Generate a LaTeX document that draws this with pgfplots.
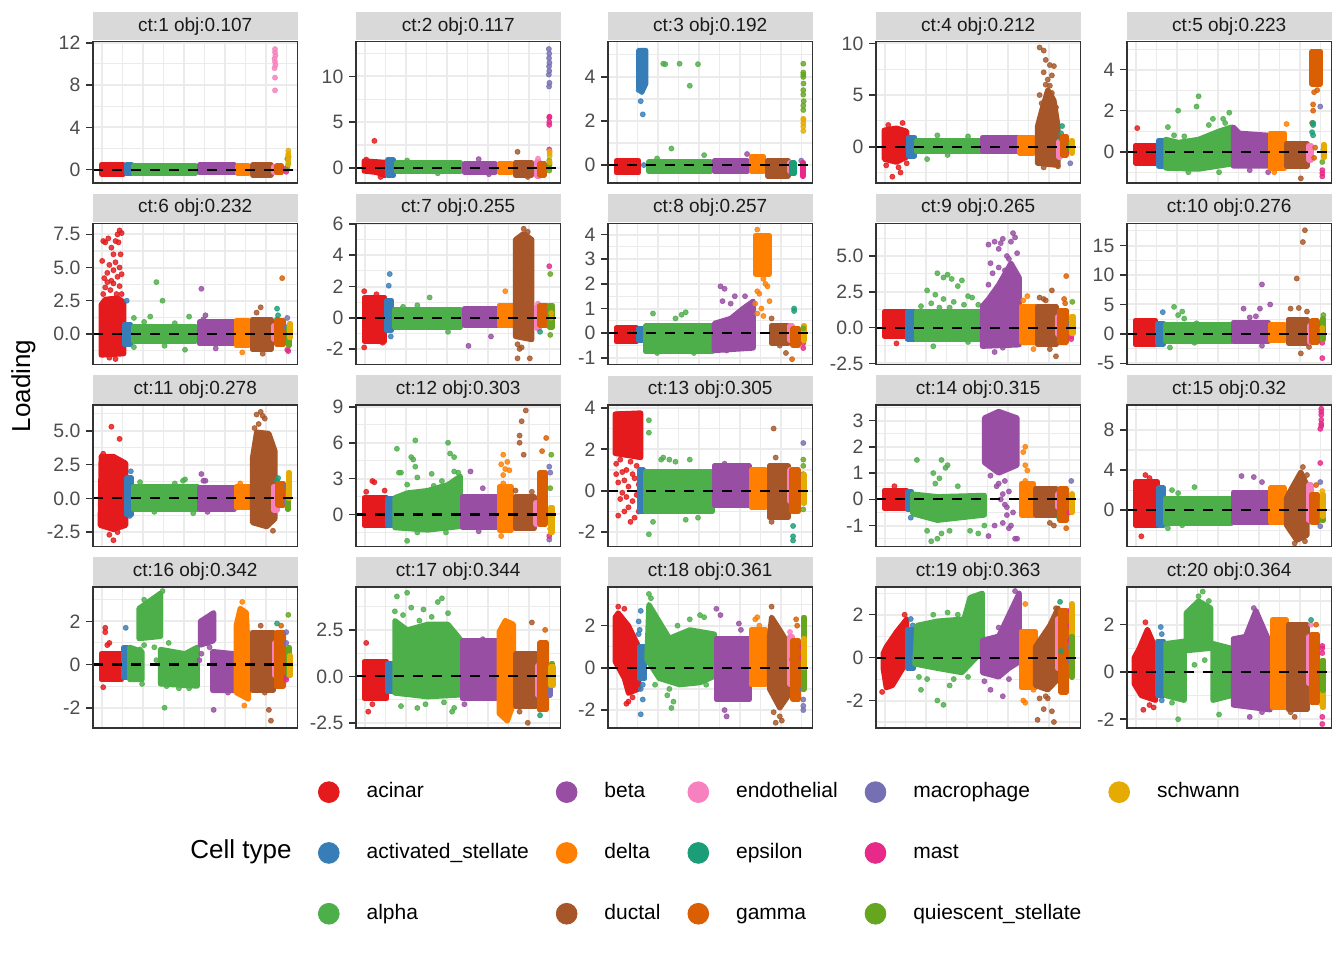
\documentclass[border=0pt]{standalone}
\usepackage{pgfplots}
\pgfplotsset{compat=1.18}
\usepackage{fontspec}
\setmainfont{Liberation Sans}
\definecolor{cA}{HTML}{E41A1C}
\definecolor{cS}{HTML}{377EB8}
\definecolor{cG}{HTML}{4DAF4A}
\definecolor{cB}{HTML}{984EA3}
\definecolor{cD}{HTML}{FF7F00}
\definecolor{cU}{HTML}{A65628}
\definecolor{cE}{HTML}{F781BF}
\definecolor{cP}{HTML}{1B9E77}
\definecolor{cM}{HTML}{D95F02}
\definecolor{cW}{HTML}{7570B3}
\definecolor{cT}{HTML}{E7298A}
\definecolor{cQ}{HTML}{66A61E}
\definecolor{cH}{HTML}{E6AB02}
\definecolor{grey92}{HTML}{EBEBEB}
\definecolor{grey85}{HTML}{D9D9D9}
\definecolor{grey20}{HTML}{333333}
\definecolor{grey30}{HTML}{4D4D4D}
\definecolor{grey10}{HTML}{1A1A1A}
\pgfplotsset{
  cband/.style={draw=#1, fill=#1, line width=2.6pt, line join=round, mark=none},
  cpts/.style={only marks, mark=*, mark size=1.25pt, color=#1, mark options={fill opacity=0.82, draw opacity=0.82}},
  panel/.style={scale only axis, width=102.25pt, height=70.6pt, anchor=south west,
    xmin=0, xmax=1,
    xtick={0.042,0.244,0.444,0.645,0.845}, minor xtick={0.143,0.344,0.545,0.745,0.945},
    xticklabels={}, xtick style={draw=none}, minor tick length=0pt,
    ytick pos=left, xtick pos=bottom,
    grid=both, major grid style={grey92, line width=1pt}, minor grid style={grey92, line width=0.55pt},
    axis line style={grey20, line width=0.8pt},
    ytick style={grey20, line width=0.8pt}, major tick length=3.3pt, tick align=outside,
    yticklabel style={font=\fontsize{9.7}{11}\selectfont, text=grey30, inner sep=0pt, xshift=-2.85pt},
    clip marker paths=true,
    after end axis/.code={\draw[grey20, line width=0.8pt] (rel axis cs:0,0) rectangle (rel axis cs:1,1);}},
  strip/.style={after end axis/.append code={\node[fill=grey85, minimum width=102.25pt, minimum height=14.2pt, inner sep=0pt, anchor=south, font=\fontsize{9.5}{11}\selectfont, text=grey10] at ([yshift=0.4pt]rel axis cs:0.5,1) {#1};}},
}
\newcommand{\Rect}[5]{\addplot[cband=#1] coordinates {(#2,#4) (#3,#4) (#3,#5) (#2,#5)} -- cycle;}
\newcommand{\Poly}[2]{\addplot[cband=#1] coordinates {#2} -- cycle;}
\newcommand{\Pts}[2]{\addplot[cpts=#1] coordinates {#2};}
\newcommand{\Zero}{\addplot[black, line width=1.1pt, dash pattern=on 5pt off 4.5pt] coordinates {(0,0) (1,0)};}
\begin{document}
\begin{tikzpicture}
\fill[white] (0pt,0pt) rectangle (672pt,480pt);

% ---------- ct:1
\begin{axis}[panel, at={(46.5pt,388.55pt)}, ymin=-1.25, ymax=12.1, ytick={0,4,8,12}, yticklabels={0,4,8,12}, minor ytick={2,6,10}, strip={ct:1 obj:0.107}]
\Rect{cA}{0.04}{0.15}{-0.4}{0.45}
\Rect{cS}{0.165}{0.19}{-0.35}{0.5}
\Rect{cG}{0.2}{0.5}{-0.35}{0.4}
\Rect{cB}{0.52}{0.69}{-0.3}{0.45}
\Rect{cD}{0.705}{0.76}{-0.35}{0.35}
\Rect{cU}{0.78}{0.87}{-0.5}{0.45}
\Rect{cE}{0.885}{0.895}{-0.3}{0.3}
\Pts{cE}{(0.89,7.5)(0.89,8.7)(0.888,9.6)(0.892,9.9)(0.89,10.2)(0.888,10.5)(0.892,10.8)(0.89,11.1)(0.89,11.4)}
\Pts{cP}{(0.905,-0.2)(0.9,0.1)}
\Rect{cM}{0.9}{0.92}{-0.3}{0.4}
\Pts{cW}{(0.945,0)}
\Pts{cT}{(0.945,-0.2)(0.94,0.1)}
\Pts{cQ}{(0.95,0.2)(0.955,0.6)(0.95,1.0)(0.955,1.3)}
\Pts{cH}{(0.955,0.5)(0.955,0.9)(0.957,1.2)(0.955,1.5)(0.955,1.8)}
\Zero
\end{axis}

% ---------- ct:2
\begin{axis}[panel, at={(178pt,388.55pt)}, ymin=-1.65, ymax=13.8, ytick={0,5,10}, yticklabels={0,5,10}, minor ytick={2.5,7.5,12.5}, strip={ct:2 obj:0.117}]
\Poly{cA}{(0.04,-0.35)(0.1,-0.5)(0.14,-0.85)(0.14,0.6)(0.04,0.75)}
\Pts{cA}{(0.09,2.95)(0.12,-1.0)(0.05,0.9)}
\Rect{cS}{0.155}{0.185}{-0.8}{0.85}
\Rect{cG}{0.2}{0.51}{-0.4}{0.55}
\Pts{cG}{(0.25,0.8)(0.4,-0.6)}
\Rect{cB}{0.53}{0.68}{-0.5}{0.45}
\Pts{cB}{(0.6,0.95)(0.65,-0.7)}
\Rect{cD}{0.7}{0.76}{-0.5}{0.5}
\Rect{cU}{0.78}{0.86}{-0.8}{0.6}
\Pts{cU}{(0.79,1.75)(0.84,-1.0)}
\Rect{cE}{0.885}{0.895}{-0.9}{0.7}
\Pts{cE}{(0.89,1.0)}
\Rect{cM}{0.9}{0.92}{-0.8}{0.5}
\Pts{cP}{(0.945,0.4)}
\Pts{cW}{(0.944,8.9)(0.946,9.3)(0.943,10.2)(0.945,10.6)(0.944,11.1)(0.946,11.5)(0.944,12.0)(0.945,12.5)(0.943,13.0)}
\Pts{cT}{(0.945,2.0)(0.945,4.7)(0.945,5.0)(0.945,5.5)(0.946,5.6)}
\Pts{cQ}{(0.945,-0.3)(0.945,0)(0.946,0.3)(0.945,0.8)}
\Pts{cH}{(0.947,0.6)(0.947,1.3)(0.947,1.6)(0.947,1.8)}
\Zero
\end{axis}

% ---------- ct:3
\begin{axis}[panel, at={(304pt,388.55pt)}, ymin=-0.81, ymax=5.6, ytick={0,2,4}, yticklabels={0,2,4}, minor ytick={1,3,5}, strip={ct:3 obj:0.192}]
\Rect{cA}{0.04}{0.15}{-0.35}{0.2}
\Poly{cS}{(0.15,3.5)(0.165,3.3)(0.185,3.7)(0.185,5.2)(0.15,5.2)}
\Pts{cS}{(0.16,2.9)(0.17,2.3)(0.15,3.4)(0.175,0)}
\Rect{cG}{0.2}{0.5}{-0.3}{0.15}
\Pts{cG}{(0.27,4.6)(0.28,4.58)(0.35,4.6)(0.4,3.6)(0.44,4.58)(0.31,0.75)(0.47,0.45)(0.24,0.3)}
\Rect{cB}{0.52}{0.68}{-0.3}{0.2}
\Pts{cB}{(0.68,0.5)}
\Rect{cD}{0.7}{0.76}{-0.3}{0.4}
\Rect{cU}{0.78}{0.88}{-0.5}{0.2}
\Rect{cE}{0.89}{0.9}{-0.3}{0.1}
\Rect{cP}{0.9}{0.91}{-0.4}{0.1}
\Pts{cW}{(0.945,0.2)}
\Rect{cT}{0.95}{0.955}{-0.5}{0.1}
\Pts{cQ}{(0.955,2.5)(0.955,2.7)(0.957,2.9)(0.955,3.2)(0.955,3.4)(0.956,3.7)(0.955,4.0)(0.955,4.1)(0.955,4.2)(0.955,4.6)}
\Pts{cH}{(0.955,1.55)(0.955,1.75)(0.955,1.9)(0.956,2.05)(0.955,2.1)}
\Zero
\end{axis}

% ---------- ct:4
\begin{axis}[panel, at={(438pt,388.55pt)}, ymin=-3.5, ymax=10.16, ytick={0,5,10}, yticklabels={0,5,10}, minor ytick={-2.5,2.5,7.5}, strip={ct:4 obj:0.212}]
\Poly{cA}{(0.04,-1.2)(0.1,-1.5)(0.15,-1.0)(0.15,1.5)(0.1,1.8)(0.04,1.6)}
\Pts{cA}{(0.08,-2.9)(0.12,-2.5)(0.13,2.3)(0.06,2.1)(0.15,-1.6)(0.05,-1.8)(0.11,-2.0)}
\Rect{cS}{0.16}{0.19}{-0.9}{0.9}
\Rect{cG}{0.2}{0.51}{-0.5}{0.6}
\Pts{cG}{(0.25,-1.2)(0.35,-0.8)(0.3,1.1)(0.45,1.0)}
\Rect{cB}{0.52}{0.69}{-0.5}{0.9}
\Rect{cD}{0.7}{0.77}{-0.6}{0.9}
\Poly{cU}{(0.79,-1.6)(0.89,-1.8)(0.89,2.0)(0.87,4.5)(0.84,5.5)(0.81,3.5)(0.79,2.0)}
\Pts{cU}{(0.8,9.6)(0.82,9.3)(0.83,8.4)(0.85,7.9)(0.87,7.8)(0.86,6.9)(0.84,6.5)(0.82,7.2)(0.85,5.9)(0.86,5.2)(0.8,5.0)(0.88,3.8)(0.82,-2.0)(0.89,-1.9)(0.81,4.2)(0.83,6.0)}
\Rect{cE}{0.895}{0.9}{-1.0}{0.5}
\Pts{cP}{(0.905,1.3)(0.91,2.0)(0.905,0.8)}
\Rect{cM}{0.91}{0.93}{-0.8}{1.0}
\Pts{cT}{(0.95,-0.4)(0.95,0)}
\Pts{cW}{(0.95,-1.6)}
\Rect{cQ}{0.95}{0.955}{-0.3}{0.3}
\Rect{cH}{0.955}{0.96}{-0.6}{0.6}
\Zero
\end{axis}

% ---------- ct:5
\begin{axis}[panel, at={(563.5pt,388.55pt)}, ymin=-1.52, ymax=5.36, ytick={0,2,4}, yticklabels={0,2,4}, minor ytick={-1,1,3,5}, strip={ct:5 obj:0.223}]
\Rect{cA}{0.04}{0.15}{-0.55}{0.3}
\Pts{cA}{(0.05,1.15)}
\Rect{cS}{0.155}{0.18}{-0.7}{0.55}
\Poly{cG}{(0.19,-0.8)(0.35,-0.85)(0.51,-0.6)(0.51,1.2)(0.45,1.0)(0.35,0.6)(0.25,0.45)(0.19,0.6)}
\Pts{cG}{(0.25,2.0)(0.34,2.2)(0.35,2.7)(0.42,1.6)(0.47,1.6)(0.5,1.9)(0.2,1.2)(0.23,0.8)(0.28,0.75)(0.45,-1.0)(0.3,-1.0)(0.4,1.3)(0.48,1.4)}
\Poly{cB}{(0.52,-0.7)(0.69,-0.7)(0.69,0.8)(0.55,0.9)(0.52,1.2)}
\Pts{cB}{(0.69,-1.0)(0.6,-0.9)}
\Rect{cD}{0.7}{0.77}{-0.8}{0.9}
\Pts{cD}{(0.78,1.35)(0.72,-1.0)}
\Rect{cU}{0.78}{0.88}{-0.7}{0.4}
\Pts{cU}{(0.85,-1.3)}
\Rect{cE}{0.89}{0.9}{-0.4}{0.3}
\Rect{cM}{0.905}{0.945}{3.3}{4.9}
\Pts{cM}{(0.915,2.9)(0.93,3.0)(0.91,2.3)(0.905,1.4)(0.91,2.0)(0.92,0.2)(0.915,-0.3)}
\Pts{cP}{(0.91,1.4)(0.91,1.3)(0.905,0.95)(0.91,0.8)}
\Pts{cW}{(0.945,2.2)}
\Pts{cT}{(0.955,-0.9)(0.955,-1.2)(0.955,-1.05)}
\Pts{cQ}{(0.955,-0.5)(0.96,0.1)}
\Rect{cH}{0.96}{0.965}{-0.3}{0.35}
\Zero
\end{axis}

% ---------- ct:6
\begin{axis}[panel, at={(46.5pt,297.7pt)}, ymin=-2.32, ymax=8.33, ytick={0,2.5,5,7.5}, yticklabels={0.0,2.5,5.0,7.5}, minor ytick={-1.25,1.25,3.75,6.25}, strip={ct:6 obj:0.232}]
\Poly{cA}{(0.04,-1.6)(0.15,-1.5)(0.15,2.4)(0.12,2.7)(0.06,2.6)(0.04,2.2)}
\Pts{cA}{(0.05,3.0)(0.06,3.5)(0.055,4.2)(0.07,4.6)(0.08,5.2)(0.09,4.0)(0.1,4.8)(0.11,5.4)(0.12,4.3)(0.13,5.0)(0.13,3.6)(0.14,3.0)(0.06,6.9)(0.075,7.2)(0.09,6.5)(0.1,6.0)(0.11,7.0)(0.12,7.5)(0.13,7.8)(0.14,7.6)(0.125,6.9)(0.135,6.0)(0.045,5.5)(0.05,7.0)(0.085,3.3)(0.1,3.8)(0.115,3.0)(0.14,4.5)(0.07,3.9)(0.08,-1.8)(0.11,-1.9)}
\Rect{cS}{0.155}{0.185}{-0.8}{0.7}
\Pts{cS}{(0.165,2.5)}
\Rect{cG}{0.2}{0.5}{-0.55}{0.55}
\Pts{cG}{(0.2,1.2)(0.2,-1.0)(0.31,3.9)(0.34,2.5)(0.28,1.3)(0.47,1.3)(0.45,-1.2)(0.35,-0.9)(0.25,0.9)(0.4,0.8)}
\Rect{cB}{0.52}{0.69}{-0.75}{0.9}
\Pts{cB}{(0.53,3.4)(0.55,1.4)(0.6,-1.1)(0.54,1.1)}
\Rect{cD}{0.7}{0.76}{-0.9}{1.0}
\Pts{cD}{(0.73,-1.4)}
\Rect{cU}{0.78}{0.87}{-1.2}{1.1}
\Pts{cU}{(0.82,2.0)(0.8,1.6)(0.83,-1.5)}
\Rect{cE}{0.885}{0.895}{-0.4}{0.6}
\Pts{cP}{(0.9,1.9)(0.905,1.4)(0.9,1.1)}
\Rect{cM}{0.9}{0.93}{-0.8}{1.0}
\Pts{cM}{(0.925,4.2)}
\Pts{cW}{(0.95,1.2)(0.945,0.5)}
\Pts{cT}{(0.955,-1.3)(0.95,-1.2)}
\Rect{cQ}{0.955}{0.96}{-0.9}{0.5}
\Rect{cH}{0.96}{0.965}{-0.3}{0.8}
\Zero
\end{axis}

% ---------- ct:7
\begin{axis}[panel, at={(178pt,297.7pt)}, ymin=-3.0, ymax=6.04, ytick={-2,0,2,4,6}, yticklabels={-2,0,2,4,6}, minor ytick={-1,1,3,5}, strip={ct:7 obj:0.255}]
\Rect{cA}{0.04}{0.14}{-1.5}{1.3}
\Pts{cA}{(0.04,1.7)(0.04,-1.9)(0.13,-1.6)(0.1,1.5)}
\Rect{cS}{0.15}{0.175}{-0.8}{1.1}
\Pts{cS}{(0.165,2.8)(0.16,2.05)(0.17,-1.2)}
\Rect{cG}{0.19}{0.51}{-0.6}{0.55}
\Pts{cG}{(0.23,0.7)(0.36,1.3)(0.3,0.8)(0.45,-0.9)}
\Rect{cB}{0.53}{0.69}{-0.5}{0.6}
\Pts{cB}{(0.55,-1.8)(0.66,-1.2)}
\Rect{cD}{0.7}{0.77}{-0.5}{0.8}
\Pts{cD}{(0.73,1.7)}
\Poly{cU}{(0.78,-1.2)(0.86,-1.4)(0.86,5.0)(0.82,5.4)(0.78,5.0)}
\Pts{cU}{(0.79,-2.6)(0.8,-2.0)(0.81,-1.9)(0.85,-2.6)(0.82,5.7)(0.84,5.5)(0.79,-1.7)}
\Rect{cE}{0.885}{0.895}{-0.7}{0.7}
\Pts{cE}{(0.89,0.9)}
\Pts{cP}{(0.9,-0.9)(0.9,0.5)}
\Rect{cM}{0.9}{0.93}{-0.5}{0.8}
\Pts{cW}{(0.945,0.5)}
\Pts{cT}{(0.945,3.3)}
\Rect{cQ}{0.945}{0.96}{-0.6}{0.8}
\Pts{cQ}{(0.95,2.8)(0.95,-1.1)}
\Pts{cH}{(0.955,0)(0.955,0.3)}
\Zero
\end{axis}

% ---------- ct:8
\begin{axis}[panel, at={(304pt,297.7pt)}, ymin=-1.27, ymax=4.45, ytick={-1,0,1,2,3,4}, yticklabels={-1,0,1,2,3,4}, minor ytick={-0.5,0.5,1.5,2.5,3.5}, strip={ct:8 obj:0.257}]
\Rect{cA}{0.04}{0.14}{-0.35}{0.22}
\Rect{cS}{0.15}{0.175}{-0.3}{0.2}
\Rect{cG}{0.185}{0.51}{-0.75}{0.3}
\Pts{cG}{(0.22,0.8)(0.36,0.75)(0.38,0.85)(0.24,-0.8)(0.42,-0.8)(0.33,0.6)}
\Poly{cB}{(0.52,-0.7)(0.71,-0.6)(0.71,1.3)(0.66,1.0)(0.6,0.6)(0.52,0.4)}
\Pts{cB}{(0.55,1.9)(0.57,1.8)(0.62,1.5)(0.67,1.5)(0.6,1.2)(0.56,1.3)(0.7,-0.5)(0.58,-0.7)}
\Rect{cD}{0.72}{0.79}{2.4}{3.95}
\Pts{cD}{(0.74,1.6)(0.72,1.2)(0.73,0.8)(0.76,0.7)(0.79,1.3)(0.75,1.0)(0.77,2.0)(0.73,4.2)(0.76,2.2)(0.78,1.9)(0.73,1.7)}
\Rect{cU}{0.8}{0.88}{-0.4}{0.3}
\Pts{cU}{(0.8,0.6)(0.87,-0.8)(0.84,-0.5)}
\Rect{cE}{0.89}{0.9}{-0.3}{0.3}
\Pts{cP}{(0.91,1.0)(0.91,0.9)}
\Rect{cM}{0.905}{0.93}{-0.5}{0.2}
\Pts{cM}{(0.9,-1.05)}
\Pts{cT}{(0.955,-0.6)(0.955,-0.4)}
\Rect{cH}{0.955}{0.96}{-0.3}{0.3}
\Pts{cQ}{(0.955,0.2)}
\Zero
\end{axis}

% ---------- ct:9
\begin{axis}[panel, at={(438pt,297.7pt)}, ymin=-2.58, ymax=7.28, ytick={-2.5,0,2.5,5}, yticklabels={-2.5,0.0,2.5,5.0}, minor ytick={-1.25,1.25,3.75,6.25}, strip={ct:9 obj:0.265}]
\Rect{cA}{0.04}{0.15}{-0.6}{1.1}
\Pts{cA}{(0.1,-1.1)}
\Rect{cS}{0.155}{0.19}{-0.8}{1.1}
\Rect{cG}{0.2}{0.51}{-0.8}{1.1}
\Pts{cG}{(0.25,2.6)(0.27,1.7)(0.3,3.8)(0.33,3.5)(0.35,3.7)(0.37,3.4)(0.38,1.8)(0.42,3.3)(0.45,2.2)(0.47,2.1)(0.5,1.6)(0.33,2.0)(0.29,2.3)(0.4,2.9)(0.22,1.5)(0.36,1.4)(0.28,-1.3)(0.45,-1.0)(0.31,1.4)(0.43,1.6)}
\Poly{cB}{(0.52,-1.3)(0.7,-1.2)(0.7,3.5)(0.66,4.5)(0.6,3.0)(0.55,2.0)(0.52,1.5)}
\Pts{cB}{(0.55,5.8)(0.58,6.0)(0.6,5.5)(0.62,6.2)(0.64,5.0)(0.66,6.0)(0.67,6.6)(0.68,6.3)(0.65,4.8)(0.63,4.0)(0.6,4.2)(0.57,3.8)(0.55,3.0)(0.69,5.2)(0.61,5.9)(0.59,1.5)(0.58,-1.7)(0.62,-1.4)(0.56,4.5)(0.63,3.4)}
\Rect{cD}{0.71}{0.78}{-1.0}{1.5}
\Pts{cD}{(0.74,2.2)(0.72,1.9)(0.77,-1.5)}
\Rect{cU}{0.79}{0.88}{-1.2}{1.5}
\Pts{cU}{(0.82,2.0)(0.86,2.6)(0.88,-2.0)(0.85,-1.5)(0.83,1.9)(0.8,2.1)}
\Rect{cE}{0.89}{0.895}{-0.5}{0.8}
\Pts{cP}{(0.905,0.8)(0.91,1.0)}
\Rect{cM}{0.9}{0.93}{-1.0}{1.2}
\Pts{cM}{(0.93,3.6)(0.92,2.0)(0.925,1.7)}
\Pts{cW}{(0.95,0.2)}
\Pts{cT}{(0.955,-0.8)(0.955,-0.6)}
\Pts{cQ}{(0.96,1.8)(0.955,0.5)}
\Rect{cH}{0.955}{0.965}{-0.4}{0.8}
\Zero
\end{axis}

% ---------- ct:10
\begin{axis}[panel, at={(563.5pt,297.7pt)}, ymin=-5.2, ymax=18.76, ytick={-5,0,5,10,15}, yticklabels={-5,0,5,10,15}, minor ytick={-2.5,2.5,7.5,12.5,17.5}, strip={ct:10 obj:0.276}]
\Rect{cA}{0.04}{0.14}{-1.8}{2.3}
\Rect{cS}{0.15}{0.18}{-1.7}{1.8}
\Pts{cS}{(0.175,3.7)}
\Rect{cG}{0.19}{0.51}{-1.2}{1.6}
\Pts{cG}{(0.23,4.6)(0.25,3.2)(0.27,3.8)(0.28,2.6)(0.34,1.8)(0.21,-2.3)(0.33,-1.5)}
\Rect{cB}{0.52}{0.69}{-1.3}{2.0}
\Pts{cB}{(0.57,4.3)(0.65,4.3)(0.66,8.4)(0.7,5.0)(0.63,3.0)(0.6,2.8)(0.66,-2.0)}
\Rect{cD}{0.7}{0.77}{-1.1}{1.6}
\Rect{cU}{0.79}{0.88}{-1.6}{2.5}
\Pts{cU}{(0.8,4.3)(0.83,9.4)(0.86,15.6)(0.87,17.6)(0.84,4.4)(0.85,-3.3)(0.89,-2.2)(0.88,3.8)}
\Rect{cE}{0.895}{0.9}{-1.5}{1.5}
\Rect{cM}{0.905}{0.93}{-1.4}{2.2}
\Pts{cT}{(0.955,-4.1)(0.955,-1.5)}
\Rect{cQ}{0.955}{0.96}{-1.0}{2.6}
\Pts{cQ}{(0.96,3.2)}
\Pts{cH}{(0.955,1.0)(0.955,0.3)}
\Zero
\end{axis}

% ---------- ct:11
\begin{axis}[panel, at={(46.5pt,206.85pt)}, ymin=-3.55, ymax=6.9, ytick={-2.5,0,2.5,5}, yticklabels={-2.5,0.0,2.5,5.0}, minor ytick={-1.25,1.25,3.75,6.25}, strip={ct:11 obj:0.278}]
\Poly{cA}{(0.035,-2.0)(0.1,-2.3)(0.16,-2.0)(0.16,2.6)(0.1,3.1)(0.04,3.1)}
\Pts{cA}{(0.09,5.3)(0.13,4.4)(0.1,-3.1)(0.08,-2.7)(0.12,-2.5)(0.05,3.3)}
\Rect{cS}{0.165}{0.19}{-1.2}{1.5}
\Pts{cS}{(0.185,2.0)(0.18,-1.3)}
\Rect{cG}{0.2}{0.51}{-0.8}{0.9}
\Pts{cG}{(0.23,1.2)(0.4,1.1)(0.44,1.3)(0.45,1.4)(0.3,-1.0)(0.49,-1.1)}
\Rect{cB}{0.52}{0.69}{-0.8}{0.8}
\Pts{cB}{(0.53,1.8)(0.54,1.3)(0.55,1.3)(0.56,-1.0)}
\Rect{cD}{0.7}{0.77}{-0.7}{0.9}
\Pts{cD}{(0.72,1.1)}
\Poly{cU}{(0.78,-1.8)(0.85,-2.1)(0.89,-1.5)(0.89,3.5)(0.86,4.8)(0.8,4.9)(0.78,3.0)}
\Pts{cU}{(0.8,6.2)(0.82,6.4)(0.83,6.1)(0.84,5.9)(0.81,5.5)(0.88,-2.4)(0.86,-1.9)(0.79,5.2)}
\Rect{cE}{0.885}{0.9}{-0.9}{0.9}
\Pts{cP}{(0.905,1.5)(0.9,1.3)(0.905,1.1)}
\Rect{cM}{0.905}{0.93}{-0.5}{1.1}
\Pts{cW}{(0.945,0.9)(0.945,-0.3)}
\Pts{cT}{(0.95,0.3)}
\Rect{cQ}{0.95}{0.955}{-0.8}{0.5}
\Rect{cH}{0.955}{0.96}{0.0}{1.9}
\Zero
\end{axis}

% ---------- ct:12
\begin{axis}[panel, at={(178pt,206.85pt)}, ymin=-2.66, ymax=9.15, ytick={0,3,6,9}, yticklabels={0,3,6,9}, minor ytick={-1.5,1.5,4.5,7.5}, strip={ct:12 obj:0.303}]
\Rect{cA}{0.04}{0.15}{-0.9}{1.4}
\Pts{cA}{(0.08,2.8)(0.09,2.7)(0.14,2.0)(0.05,1.9)}
\Rect{cS}{0.155}{0.185}{-0.9}{1.3}
\Poly{cG}{(0.19,-1.1)(0.35,-1.3)(0.51,-1.0)(0.51,3.2)(0.45,2.5)(0.35,2.0)(0.25,1.8)(0.19,1.4)}
\Pts{cG}{(0.2,5.5)(0.21,3.5)(0.22,3.5)(0.27,4.8)(0.28,4.6)(0.29,4.0)(0.3,3.1)(0.29,6.2)(0.37,3.4)(0.45,6.0)(0.42,2.8)(0.46,5.1)(0.48,4.8)(0.48,3.6)(0.5,3.5)(0.25,2.5)(0.38,2.4)(0.25,-2.2)(0.3,-1.5)(0.44,-1.5)}
\Rect{cB}{0.52}{0.69}{-1.1}{1.5}
\Pts{cB}{(0.56,3.6)(0.62,2.2)(0.6,-1.4)}
\Rect{cD}{0.7}{0.76}{-1.3}{2.3}
\Pts{cD}{(0.72,5.0)(0.71,4.2)(0.73,3.8)(0.72,3.3)(0.72,2.6)(0.75,3.7)(0.71,-1.8)(0.74,4.4)}
\Rect{cU}{0.78}{0.87}{-1.2}{1.5}
\Pts{cU}{(0.8,6.6)(0.81,7.8)(0.83,8.7)(0.8,6.0)(0.82,5.0)(0.78,2.0)(0.86,1.9)}
\Rect{cE}{0.88}{0.89}{-0.8}{1.0}
\Rect{cM}{0.9}{0.925}{-0.8}{3.5}
\Pts{cM}{(0.91,5.3)(0.93,6.4)}
\Pts{cW}{(0.945,4.0)(0.95,3.5)(0.945,-2.1)}
\Pts{cT}{(0.945,-1.8)(0.95,-1.2)}
\Pts{cQ}{(0.955,5.0)(0.95,2.2)}
\Rect{cH}{0.95}{0.96}{-1.5}{0.6}
\Zero
\end{axis}

% ---------- ct:13
\begin{axis}[panel, at={(304pt,206.85pt)}, ymin=-2.68, ymax=4.13, ytick={-2,0,2,4}, yticklabels={-2,0,2,4}, minor ytick={-1,1,3}, strip={ct:13 obj:0.305}]
\Poly{cA}{(0.035,1.8)(0.16,1.6)(0.16,3.75)(0.035,3.7)}
\Pts{cA}{(0.04,1.3)(0.05,0.4)(0.06,-0.4)(0.07,0.9)(0.08,-1.0)(0.09,1.0)(0.1,0.2)(0.11,-1.5)(0.12,-0.5)(0.13,0.6)(0.14,1.2)(0.15,-1.0)(0.06,1.5)(0.1,-0.8)(0.12,0.8)(0.05,-1.2)(0.09,-0.3)(0.14,-0.2)(0.08,0.5)(0.11,1.4)(0.04,0.8)(0.13,-1.3)(0.05,3.7)(0.07,-0.1)(0.15,0.3)}
\Rect{cS}{0.155}{0.175}{-1.0}{1.0}
\Rect{cG}{0.185}{0.51}{-1.0}{0.9}
\Pts{cG}{(0.2,3.4)(0.2,2.8)(0.26,1.5)(0.3,1.5)(0.27,1.6)(0.33,1.4)(0.4,1.5)(0.2,-2.1)(0.22,-1.5)(0.38,-1.4)(0.44,-1.3)}
\Rect{cB}{0.52}{0.69}{-0.7}{1.2}
\Pts{cB}{(0.57,1.3)}
\Rect{cD}{0.7}{0.77}{-0.8}{1.0}
\Rect{cU}{0.79}{0.88}{-1.3}{1.2}
\Pts{cU}{(0.81,3.0)(0.82,1.6)(0.8,-1.5)}
\Rect{cE}{0.89}{0.895}{-0.5}{1.0}
\Pts{cP}{(0.905,-1.7)(0.905,-2.2)(0.905,-2.4)}
\Rect{cM}{0.9}{0.93}{-1.0}{1.0}
\Pts{cW}{(0.955,2.3)(0.955,0.8)}
\Pts{cQ}{(0.955,1.5)(0.955,1.2)(0.955,-0.9)}
\Rect{cH}{0.955}{0.96}{-0.6}{0.8}
\Zero
\end{axis}

% ---------- ct:14
\begin{axis}[panel, at={(438pt,206.85pt)}, ymin=-1.79, ymax=3.59, ytick={-1,0,1,2,3}, yticklabels={-1,0,1,2,3}, minor ytick={-1.5,-0.5,0.5,1.5,2.5,3.5}, strip={ct:14 obj:0.315}]
\Rect{cA}{0.04}{0.15}{-0.35}{0.35}
\Pts{cA}{(0.09,0.5)}
\Rect{cS}{0.155}{0.175}{-0.4}{0.3}
\Pts{cS}{(0.17,-0.7)}
\Poly{cG}{(0.18,-0.55)(0.3,-0.8)(0.53,-0.6)(0.53,0.15)(0.3,0.1)(0.18,0.2)}
\Pts{cG}{(0.2,1.5)(0.28,1.0)(0.32,1.5)(0.34,1.2)(0.35,1.3)(0.31,0.8)(0.29,0.6)(0.25,-1.2)(0.3,-1.5)(0.32,-1.3)(0.36,-1.2)(0.46,-1.2)(0.5,-1.3)(0.53,-1.0)(0.4,0.5)(0.27,-1.6)}
\Poly{cB}{(0.53,1.4)(0.6,1.0)(0.69,1.3)(0.69,3.1)(0.6,3.35)(0.53,3.1)}
\Pts{cB}{(0.6,0.6)(0.62,0.2)(0.63,-0.2)(0.64,-0.6)(0.65,0.3)(0.66,-1.0)(0.62,-0.9)(0.61,0.0)(0.67,-0.5)(0.68,-1.5)(0.69,-1.5)(0.55,-1.4)(0.58,-1.0)(0.56,0.9)(0.59,0.5)(0.65,-1.1)(0.63,0.7)(0.64,-0.3)}
\Rect{cD}{0.71}{0.77}{-0.6}{0.6}
\Pts{cD}{(0.73,2.0)(0.72,1.8)(0.74,1.1)(0.73,1.3)(0.73,0.7)}
\Rect{cU}{0.78}{0.88}{-0.6}{0.4}
\Pts{cU}{(0.87,-1.0)(0.85,-0.9)}
\Rect{cE}{0.89}{0.895}{-0.3}{0.2}
\Pts{cP}{(0.895,-0.7)}
\Rect{cM}{0.9}{0.93}{-0.8}{0.4}
\Pts{cM}{(0.93,-1.1)}
\Pts{cW}{(0.955,0.7)}
\Pts{cT}{(0.945,-0.5)}
\Rect{cH}{0.955}{0.96}{-0.5}{0.2}
\Zero
\end{axis}

% ---------- ct:15
\begin{axis}[panel, at={(563.5pt,206.85pt)}, ymin=-3.6, ymax=10.47, ytick={0,4,8}, yticklabels={0,4,8}, minor ytick={-2,2,6,10}, strip={ct:15 obj:0.32}]
\Rect{cA}{0.04}{0.15}{-1.5}{2.8}
\Pts{cA}{(0.07,-2.6)(0.09,3.5)(0.11,3.2)}
\Rect{cS}{0.155}{0.18}{-1.5}{2.2}
\Rect{cG}{0.19}{0.51}{-1.3}{1.2}
\Pts{cG}{(0.22,2.0)(0.25,1.7)(0.33,2.3)(0.2,-1.8)(0.27,-1.5)}
\Rect{cB}{0.52}{0.69}{-1.2}{1.8}
\Pts{cB}{(0.56,3.4)(0.62,3.3)(0.66,2.8)}
\Rect{cD}{0.7}{0.77}{-1.2}{2.2}
\Poly{cU}{(0.78,-1.5)(0.83,-3.0)(0.88,-2.5)(0.88,2.5)(0.85,3.8)(0.8,2.0)(0.78,1.2)}
\Pts{cU}{(0.86,4.3)(0.82,-3.3)(0.87,-3.1)(0.88,3.5)}
\Rect{cE}{0.89}{0.9}{-1.0}{2.5}
\Rect{cM}{0.905}{0.93}{-1.2}{1.6}
\Pts{cM}{(0.925,2.5)}
\Pts{cT}{(0.945,4.7)(0.95,8.4)(0.95,8.6)(0.95,9.0)(0.95,9.5)(0.95,9.8)(0.95,10.1)(0.945,8.1)}
\Pts{cW}{(0.945,2.8)(0.945,-1.6)}
\Rect{cQ}{0.95}{0.96}{-1.0}{1.0}
\Rect{cH}{0.955}{0.96}{-0.6}{1.6}
\Pts{cH}{(0.955,1.9)}
\Zero
\end{axis}

% ---------- ct:16
\begin{axis}[panel, at={(46.5pt,116pt)}, ymin=-2.94, ymax=3.6, ytick={-2,0,2}, yticklabels={-2,0,2}, minor ytick={-1,1,3}, strip={ct:16 obj:0.342}]
\Rect{cA}{0.04}{0.14}{-0.7}{0.5}
\Pts{cA}{(0.06,1.7)(0.06,1.5)(0.07,0.9)(0.08,1.0)(0.05,-1.05)}
\Rect{cS}{0.15}{0.175}{-0.6}{0.8}
\Pts{cS}{(0.16,1.7)}
\Poly{cG}{(0.18,-0.7)(0.24,-0.7)(0.24,0.6)(0.18,0.8)}
\Poly{cG}{(0.225,1.2)(0.33,1.3)(0.33,3.3)(0.27,2.9)(0.225,2.6)}
\Poly{cG}{(0.33,-0.9)(0.51,-1.0)(0.51,0.8)(0.45,0.5)(0.33,0.7)}
\Pts{cG}{(0.25,0.9)(0.23,0.7)(0.3,0.8)(0.31,0.2)(0.35,-2.0)(0.36,-1.0)(0.42,-1.1)(0.47,-1.1)(0.24,-0.9)(0.37,1.0)(0.25,3.0)(0.34,3.4)}
\Poly{cB}{(0.525,0.9)(0.59,1.1)(0.59,2.4)(0.525,2.0)}
\Poly{cB}{(0.585,-1.2)(0.69,-1.2)(0.69,0.5)(0.585,0.6)}
\Pts{cB}{(0.59,-2.1)(0.66,-1.3)(0.52,0.2)(0.53,0.5)(0.57,0.8)}
\Poly{cD}{(0.7,-1.3)(0.76,-1.6)(0.76,0.3)(0.75,2.4)(0.72,2.6)(0.7,1.8)}
\Pts{cD}{(0.73,2.9)(0.74,-1.9)}
\Rect{cU}{0.78}{0.88}{-1.2}{1.5}
\Pts{cU}{(0.82,1.8)(0.84,-1.3)(0.86,-2.1)(0.87,-2.6)(0.83,-1.1)}
\Rect{cE}{0.89}{0.895}{-0.5}{1.0}
\Pts{cP}{(0.9,1.9)(0.9,0)}
\Rect{cM}{0.9}{0.93}{-1.0}{1.5}
\Pts{cM}{(0.92,1.8)}
\Pts{cW}{(0.945,1.0)(0.945,1.5)}
\Pts{cT}{(0.945,-0.6)(0.945,-0.7)}
\Rect{cQ}{0.955}{0.96}{-0.5}{0.8}
\Pts{cQ}{(0.955,2.3)}
\Rect{cH}{0.96}{0.965}{-0.5}{0.4}
\Zero
\end{axis}

% ---------- ct:17
\begin{axis}[panel, at={(178pt,116pt)}, ymin=-2.78, ymax=4.82, ytick={-2.5,0,2.5}, yticklabels={-2.5,0.0,2.5}, minor ytick={-1.25,1.25,3.75}, strip={ct:17 obj:0.344}]
\Rect{cA}{0.04}{0.15}{-1.2}{0.8}
\Pts{cA}{(0.05,1.8)(0.06,-1.9)(0.08,-1.5)}
\Rect{cS}{0.155}{0.18}{-0.8}{0.7}
\Poly{cG}{(0.19,-0.9)(0.35,-1.1)(0.51,-1.0)(0.51,2.0)(0.45,2.8)(0.35,2.8)(0.25,2.5)(0.19,3.0)}
\Pts{cG}{(0.19,3.5)(0.2,4.3)(0.25,4.5)(0.27,3.7)(0.33,3.6)(0.37,3.2)(0.4,4.0)(0.42,4.2)(0.45,3.4)(0.23,3.3)(0.31,3.0)(0.22,-1.6)(0.3,-1.7)(0.34,-1.5)(0.47,-1.9)(0.48,-1.7)(0.43,-1.4)}
\Rect{cB}{0.52}{0.69}{-1.2}{1.9}
\Pts{cB}{(0.53,-1.5)(0.62,2.0)}
\Poly{cD}{(0.7,-2.0)(0.74,-2.4)(0.77,-1.5)(0.77,2.8)(0.73,3.0)(0.7,2.4)}
\Rect{cU}{0.78}{0.88}{-1.6}{1.2}
\Pts{cU}{(0.84,-2.5)(0.86,2.9)(0.8,-1.9)}
\Rect{cE}{0.89}{0.895}{-1.0}{0.6}
\Pts{cP}{(0.9,-1.8)(0.9,-2.1)(0.905,-1.5)}
\Rect{cM}{0.9}{0.93}{-1.8}{1.8}
\Pts{cM}{(0.925,2.5)}
\Rect{cW}{0.945}{0.95}{-1.0}{-0.2}
\Rect{cQ}{0.955}{0.96}{-0.3}{0.7}
\Rect{cH}{0.95}{0.965}{-0.5}{0.5}
\Zero
\end{axis}

% ---------- ct:18
\begin{axis}[panel, at={(304pt,116pt)}, ymin=-2.85, ymax=3.84, ytick={-2,0,2}, yticklabels={-2,0,2}, minor ytick={-1,1,3}, strip={ct:18 obj:0.361}]
\Poly{cA}{(0.035,0.3)(0.08,-0.5)(0.1,-1.2)(0.15,-1.0)(0.15,1.0)(0.1,2.0)(0.05,2.6)(0.035,2.4)}
\Pts{cA}{(0.05,2.9)(0.08,2.8)(0.1,-1.6)(0.09,-1.7)(0.12,-1.4)}
\Rect{cS}{0.155}{0.18}{-0.5}{1.0}
\Pts{cS}{(0.15,2.2)(0.16,2.7)(0.155,1.8)(0.15,1.6)(0.16,-1.0)(0.17,-1.5)(0.16,-2.2)(0.17,-0.8)}
\Poly{cG}{(0.19,0.4)(0.25,-0.5)(0.35,-0.8)(0.45,-0.7)(0.52,-0.4)(0.52,1.6)(0.4,1.8)(0.3,1.4)(0.25,2.2)(0.2,3.0)}
\Pts{cG}{(0.2,3.5)(0.21,3.3)(0.23,-0.8)(0.31,-1.9)(0.32,-1.6)(0.29,-1.3)(0.34,2.0)(0.4,2.3)(0.45,2.5)(0.47,2.4)(0.3,-1.0)(0.48,-0.8)}
\Rect{cB}{0.53}{0.69}{-1.5}{1.4}
\Pts{cB}{(0.53,2.8)(0.55,2.5)(0.57,-2.0)(0.58,-2.3)(0.65,1.8)(0.64,2.1)}
\Rect{cD}{0.7}{0.77}{-0.8}{1.8}
\Pts{cD}{(0.72,2.3)(0.73,2.4)(0.74,2.0)}
\Poly{cU}{(0.79,-1.0)(0.84,-1.9)(0.89,-1.2)(0.89,1.0)(0.84,1.8)(0.8,2.4)(0.79,1.5)}
\Pts{cU}{(0.8,2.9)(0.81,-2.1)(0.82,-2.6)(0.85,-2.5)(0.84,-2.3)}
\Rect{cE}{0.89}{0.9}{-0.8}{1.5}
\Pts{cE}{(0.89,1.7)}
\Pts{cP}{(0.9,0.4)}
\Rect{cM}{0.905}{0.93}{-1.5}{1.3}
\Pts{cM}{(0.925,2.0)(0.92,2.3)}
\Pts{cW}{(0.955,-1.5)(0.955,-2.0)(0.955,-1.8)(0.95,-1.0)}
\Pts{cT}{(0.95,1.0)(0.95,0.5)}
\Rect{cQ}{0.955}{0.96}{-1.0}{2.4}
\Rect{cH}{0.955}{0.96}{0.0}{1.4}
\Zero
\end{axis}

% ---------- ct:19
\begin{axis}[panel, at={(438pt,116pt)}, ymin=-3.28, ymax=3.3, ytick={-2,0,2}, yticklabels={-2,0,2}, minor ytick={-3,-1,1,3}, strip={ct:19 obj:0.363}]
\Poly{cA}{(0.035,-0.5)(0.05,-1.4)(0.08,-1.3)(0.15,-0.2)(0.15,1.8)(0.1,1.2)(0.05,0.5)(0.035,0.2)}
\Pts{cA}{(0.03,-1.6)(0.14,2.0)}
\Rect{cS}{0.155}{0.185}{-0.5}{1.3}
\Pts{cS}{(0.17,1.8)(0.18,1.5)}
\Poly{cG}{(0.19,-0.3)(0.3,-0.5)(0.42,-0.7)(0.46,-0.3)(0.52,0.3)(0.52,3.0)(0.46,2.8)(0.43,1.8)(0.3,1.7)(0.2,1.5)}
\Pts{cG}{(0.22,-1.5)(0.25,-1.0)(0.3,-2.0)(0.33,-2.2)(0.36,-1.3)(0.38,-1.0)(0.28,2.0)(0.35,2.1)(0.4,2.0)(0.45,-0.9)(0.21,-0.9)}
\Poly{cB}{(0.52,-0.7)(0.6,-0.9)(0.65,-0.5)(0.7,-0.2)(0.7,3.0)(0.65,2.0)(0.6,1.0)(0.52,0.8)}
\Pts{cB}{(0.53,-1.1)(0.56,-1.5)(0.62,-1.8)(0.65,-1.0)(0.68,3.1)(0.6,1.4)}
\Rect{cD}{0.71}{0.78}{-1.4}{1.2}
\Pts{cD}{(0.73,2.5)(0.72,-2.0)(0.73,-2.1)(0.77,-1.5)}
\Poly{cU}{(0.78,-1.3)(0.84,-1.5)(0.89,-1.0)(0.89,2.3)(0.85,1.5)(0.8,0.8)(0.78,0.5)}
\Pts{cU}{(0.8,-1.9)(0.82,-2.4)(0.84,-1.9)(0.86,-2.5)(0.87,-3.0)(0.79,-2.9)(0.83,-1.8)(0.88,2.3)}
\Rect{cE}{0.89}{0.9}{-0.5}{1.8}
\Rect{cM}{0.905}{0.93}{-1.6}{2.2}
\Pts{cP}{(0.9,2.6)(0.905,0.3)}
\Pts{cW}{(0.95,-0.2)(0.95,0.5)}
\Pts{cT}{(0.95,2.2)(0.95,1.5)(0.95,0.8)}
\Rect{cH}{0.955}{0.96}{0.0}{2.5}
\Rect{cQ}{0.955}{0.96}{-0.9}{1.0}
\Zero
\end{axis}

% ---------- ct:20
\begin{axis}[panel, at={(563.5pt,116pt)}, ymin=-2.37, ymax=3.6, ytick={-2,0,2}, yticklabels={-2,0,2}, minor ytick={-1,1,3}, strip={ct:20 obj:0.364}]
\Poly{cA}{(0.035,-0.5)(0.07,-1.0)(0.14,-1.2)(0.14,1.0)(0.1,1.8)(0.06,1.0)(0.035,0.6)}
\Pts{cA}{(0.09,2.1)(0.08,-1.6)(0.11,-1.4)(0.13,-1.5)}
\Rect{cS}{0.15}{0.18}{-1.0}{1.3}
\Pts{cS}{(0.165,1.9)(0.17,1.6)(0.17,-1.2)}
\Poly{cG}{(0.19,-1.0)(0.28,-1.2)(0.28,1.3)(0.19,1.2)}
\Poly{cG}{(0.29,0.9)(0.41,1.0)(0.41,2.7)(0.35,3.0)(0.29,2.5)}
\Poly{cG}{(0.42,-1.2)(0.51,-1.0)(0.51,1.0)(0.42,1.2)}
\Pts{cG}{(0.35,3.2)(0.37,3.4)(0.4,3.0)(0.25,-2.0)(0.45,-1.8)(0.22,-1.3)(0.33,0.3)(0.38,0.5)(0.3,1.4)}
\Poly{cB}{(0.52,-1.4)(0.7,-1.6)(0.7,1.2)(0.63,2.6)(0.58,1.5)(0.52,1.4)}
\Pts{cB}{(0.62,2.7)(0.6,-1.9)(0.66,-1.7)}
\Rect{cD}{0.71}{0.78}{-1.5}{2.2}
\Rect{cU}{0.79}{0.88}{-1.6}{2.0}
\Pts{cU}{(0.82,-1.9)(0.8,-1.7)(0.85,1.9)}
\Rect{cE}{0.89}{0.9}{-0.5}{1.5}
\Pts{cE}{(0.9,2.0)}
\Rect{cM}{0.905}{0.93}{-1.3}{1.6}
\Pts{cM}{(0.925,2.0)}
\Pts{cP}{(0.9,2.2)}
\Pts{cT}{(0.955,-1.9)(0.955,-2.2)(0.955,-1.4)(0.955,0.8)(0.955,1.1)(0.955,1.0)}
\Pts{cW}{(0.955,-1.0)}
\Rect{cH}{0.955}{0.96}{-1.5}{0.5}
\Rect{cQ}{0.955}{0.96}{-0.8}{0.5}
\Zero
\end{axis}

% ---------- legend
\begin{axis}[hide axis, scale only axis, width=672pt, height=480pt, at={(0pt,0pt)}, anchor=south west,
  xmin=0, xmax=1, ymin=0, ymax=1,
  legend columns=5, legend cell align=left,
  legend image code/.code={\fill (0pt,0pt) circle (5.2pt);},
  legend style={draw=none, fill=none, inner sep=0pt, outer sep=0pt, at={(0.2366,0.1861)}, anchor=north west,
    column sep=13.5pt, row sep=19.6pt, font=\fontsize{10.5}{12.6}\selectfont,
    nodes={inner sep=0pt, text height=7.6pt, text depth=2.2pt}}]
\addlegendimage{cA}\addlegendentry{acinar}
\addlegendimage{cB}\addlegendentry{beta}
\addlegendimage{cE}\addlegendentry{endothelial}
\addlegendimage{cW}\addlegendentry{macrophage}
\addlegendimage{cH}\addlegendentry{schwann}
\addlegendimage{cS}\addlegendentry{activated\_stellate}
\addlegendimage{cD}\addlegendentry{delta}
\addlegendimage{cP}\addlegendentry{epsilon}
\addlegendimage{cT}\addlegendentry{mast}
\addlegendimage{empty legend}\addlegendentry{}
\addlegendimage{cG}\addlegendentry{alpha}
\addlegendimage{cU}\addlegendentry{ductal}
\addlegendimage{cM}\addlegendentry{gamma}
\addlegendimage{cQ}\addlegendentry{quiescent\_stellate}
\end{axis}

\node[anchor=west, inner sep=0pt, font=\fontsize{13}{15.6}\selectfont] at (95pt,54.15pt) {Cell type};
\node[rotate=90, inner sep=0pt, font=\fontsize{13}{15.6}\selectfont] at (11.75pt,287pt) {Loading};
\pgfresetboundingbox
\useasboundingbox (0pt,0pt) rectangle (672pt,480pt);
\end{tikzpicture}
\end{document}
